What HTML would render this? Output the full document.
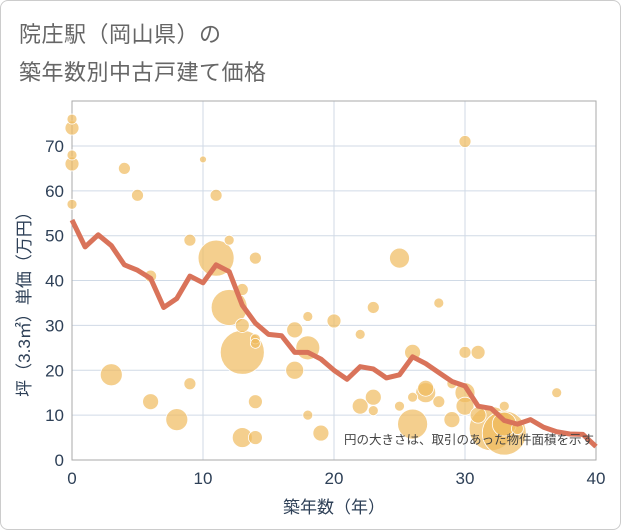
<!DOCTYPE html>
<html><head><meta charset="utf-8"><style>
body{margin:0;background:#fff;font-family:"Liberation Sans","Noto Sans CJK JP",sans-serif;}
#wrap{position:relative;width:619px;height:528px;border:1px solid #ccc;border-radius:8px;overflow:hidden;}
.t{position:absolute;left:18px;font-size:22px;color:#666;letter-spacing:0.5px;}
</style></head><body>
<div id="wrap">
<div class="t" style="top:16px">院庄駅（岡山県）の</div>
<div class="t" style="top:54px">築年数別中古戸建て価格</div>
<svg id="svg" width="621" height="530" style="position:absolute;left:-1px;top:-1px"></svg>
</div>
<script>
const xTicks=[0,10,20,30,40];
const yTicks=[0,10,20,30,40,50,60,70];
const lineYears=[0,1,2,3,4,5,6,7,8,9,10,11,12,13,14,15,16,17,18,19,20,21,22,23,24,25,26,27,28,29,30,31,32,33,34,35,36,37,38,39,40];
const linePrices=[53.5,47.5,50.2,47.8,43.5,42.3,40.5,34,36,41,39.5,43.5,42,34.5,30.5,28,27.7,24,24,22.5,20,18,20.8,20.3,18.3,19,23,21.5,19.5,17.5,16.5,12,11.5,8.8,8,9,7.3,6.3,5.8,5.7,3];
const bubbleAges=[0,0,0,0,0,4,5,6,3,6,8,9,9,10,11,11,12,12,13,13,13,14,14,14,14,13,14,17,17,18,18,18,19,20,22,22,23,23,23,25,25,26,26,26,27,27,28,29,28,29,30,30,31,30,30,31,32,33,33,33,34,37];
const bubblePrices=[76,74,68,66,57,65,59,41,19,13,9,49,17,67,59,45,49,34,38,30,24,27,26,45,13,5,5,29,20,25,32,10,6,31,28,12,34,14,11,45,12,24,14,8,15,16,35,17,13,9,71,24,24,15,12,10,7,6,8,12,7,15];
const bubbleSizes=[5,7,5,7,5,6,6,6,11,8,11,6,6,3.5,6,18,5,18,6,7,22,5,5,6,7,10,7,8,9,12,5,5,8,7,5,8,6,8,5,10,5,8,5,15,10,8,5,5,6,8,6,6,7,10,9,8,22,22,12,5,6,5];
const X0=72,X1=596,Y0=460,Y1=101;
const xs=v=>X0+(v-0)/40*(X1-X0);
const ys=v=>Y0-v*4.486;
const svg=document.getElementById('svg');
const NS='http://www.w3.org/2000/svg';
function mk(tag,attrs,parent){const e=document.createElementNS(NS,tag);for(const k in attrs)e.setAttribute(k,attrs[k]);(parent||svg).appendChild(e);return e;}
for(const v of yTicks){const g=mk('line',{x1:X0,x2:X1,y1:ys(v),y2:ys(v),stroke:'#d0dae6','stroke-width':1});

const t=mk('text',{x:X0-8,y:ys(v)+6,'text-anchor':'end','font-size':17,fill:'#2e4057'});t.textContent=v;
}
for(const v of xTicks){const g=mk('line',{x1:xs(v),x2:xs(v),y1:Y1,y2:Y0,stroke:'#d0dae6','stroke-width':1});

const t=mk('text',{x:xs(v),y:Y0+24,'text-anchor':'middle','font-size':17,fill:'#2e4057'});t.textContent=v;
}
const fr=mk('rect',{x:X0,y:Y1,width:X1-X0,height:Y0-Y1,fill:'none',stroke:'#aaa','stroke-width':1});

const idx=bubbleSizes.map((s,i)=>i).sort((a,b)=>bubbleSizes[b]-bubbleSizes[a]);
for(const i of idx){const c=mk('circle',{cx:xs(bubbleAges[i]),cy:ys(bubblePrices[i]),r:bubbleSizes[i],fill:'rgba(240,186,94,0.7)',stroke:'#fff','stroke-width':0.8});
}
const p=mk('polyline',{points:lineYears.map((y,i)=>xs(y)+','+ys(linePrices[i])).join(' '),fill:'none',stroke:'#d9735a','stroke-width':5,'stroke-linejoin':'round'});

const n=mk('text',{x:594,y:444,'text-anchor':'end','font-size':12.5,fill:'#444'});n.textContent='円の大きさは、取引のあった物件面積を示す';

const xt=mk('text',{x:334,y:513,'text-anchor':'middle','font-size':17,fill:'#2e4057'});xt.textContent='築年数（年）';

const yt=mk('text',{x:0,y:0,'text-anchor':'middle','font-size':17,fill:'#2e4057',transform:'translate(30,300) rotate(-90)'});yt.textContent='坪（3.3㎡）単価（万円）';

</script>
</body></html>
